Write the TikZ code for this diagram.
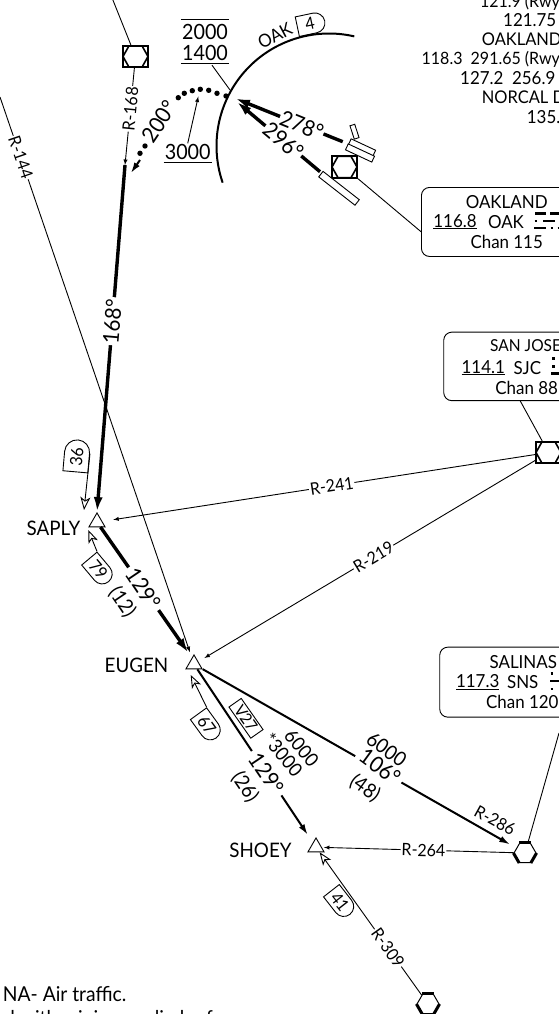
\documentclass[tikz,border=0pt]{standalone}
\usepackage{fontspec}
\setmainfont[FakeStretch=0.94]{Lato}
\usetikzlibrary{arrows,arrows.meta}
\usetikzlibrary{shapes.misc,shapes.geometric}
\def\txt#1{\fontsize{#1}{#1}\selectfont}
\tikzset{
	lbl/.style={font=\txt{17}, inner sep=1},
	txtn/.style={font=\txt{18}, inner sep=0},
	big/.style={font=\txt{22}, inner sep=1},
	mid/.style={font=\txt{20}, inner sep=1},
	blank/.style={fill=white},
	fix/.style={regular polygon, regular polygon sides=3, draw, fill=white, minimum size=18.5, inner sep=0, line width=0.9},
	vorbox/.style={draw, fill=white, line width=1.7, minimum width=25, minimum height=21.5, inner sep=0, path picture={
		\draw[line width=1.6] (path picture bounding box.center) ++(-12.5pt,0pt) -- ++(6pt,10.7pt) -- ++(13pt,0pt) -- ++(6pt,-10.7pt) -- ++(-6pt,-10.7pt) -- ++(-13pt,0pt) -- cycle;
		}},
	hexnav/.style={regular polygon, regular polygon sides=6, draw, fill=white, minimum size=22, inner sep=0, line width=1},
	shieldbox/.style={rounded rectangle, rounded rectangle left arc=none, draw, fill=white, minimum height=20, minimum width=30, inner sep=0, line width=0.9, font=\txt{17}},
	navbox/.style={draw, rounded corners=8, anchor=north west, minimum width=220, line width=0.9},
	rwy/.style={draw, fill=white, line width=0.9, inner sep=0},
	thinline/.style={line width=0.9},
	course/.style={line width=3.4},
	bold/.style={line width=2},
	opentip/.style={line width=0.9, -{Stealth[open,fill=white,length=13,width=10,inset=3.5]}},
	bigtip/.style={-{Latex[length=15,width=9]}},
	midtip/.style={-{Latex[length=11,width=6.5]}},
	morse/.style={line width=2.6},
}
\begin{document}
\begin{tikzpicture}[x=1pt,y=-1pt]
		\clip[use as bounding box] (0,0) rectangle (559,1014);
		
		% frequency block
		\node[txtn, anchor=east, font=\txt{17}] (twr a) at (560,2) {121.9 (Rwy};
		\node[txtn, anchor=west] (twr b) at (503,20) {121.75};
		\node[txtn, anchor=west, font=\txt{17.5}] (twr c) at (481.7,39.3) {OAKLAND};
		\node[txtn, anchor=east, font=\txt{17}] (twr d) at (560,59.3) {118.3\ \ 291.65 (Rwy};
		\node[txtn, anchor=west] (twr e) at (460,78.3) {127.2\ \ 256.9};
		\node[txtn, anchor=west, font=\txt{17.5}] (twr f) at (481.7,97.7) {NORCAL D};
		\node[txtn, anchor=west] (twr g) at (526.7,116.7) {135.};
		
		% boxes
		\node[navbox, minimum height=69] (oakbox) at (421,187) {};
		\node[txtn] (oak a) at (506.7,201.7) {OAKLAND};
		\node[txtn] (oak b) at (455,221.7) {\underline{116.8}};
		\node[txtn] (oak c) at (506,221.7) {OAK};
		\node[txtn] (oak d) at (506.7,241.7) {Chan 115};
		\node[navbox, minimum height=68.5] (sjcbox) at (443.3,331.7) {};
		\node[txtn, anchor=west, font=\txt{16.5}] (sjc a) at (490,346) {SAN JOSE};
		\node[txtn] (sjc b) at (483.3,367.7) {\underline{114.1}};
		\node[txtn] (sjc c) at (527.3,367.7) {SJC};
		\node[txtn] (sjc d) at (526.7,388.3) {Chan 88};
		\node[navbox, minimum height=70] (snsbox) at (439.3,646.7) {};
		\node[txtn] (sns a) at (523.3,662.3) {SALINAS};
		\node[txtn] (sns b) at (477.7,682.3) {\underline{117.3}};
		\node[txtn] (sns c) at (522.7,682.3) {SNS};
		\node[txtn] (sns d) at (522.3,701.7) {Chan 120};
		
		% morse
		\draw[morse] (535,213.3) -- (545.7,213.3) (550,213.3) -- (559,213.3);
		\draw[morse] (534.5,221) -- (537,221) (543.3,221) -- (555,221);
		\draw[morse] (534.3,228) -- (545.7,228) (550.5,228) -- (553,228) (557.5,228) -- (559,228);
		\draw[morse] (552,358.3) -- (554.6,358.3) (552,366.7) -- (554.6,366.7) (551,373.3) -- (559,373.3);
		\draw[morse] (550.5,673.3) -- (553,673.3) (550,681) -- (559,681) (550.5,689) -- (553,689);
		
		% navaids
		\node[vorbox] (vorn) at (135.5,56.5) {};
		\node[vorbox] (voroak) at (344.5,167) {};
		\node[vorbox] (vorsjc) at (548.5,452.5) {};
		\node[hexnav] (hexsns) at (525,853) {};
		\node[hexnav] (hexs) at (428,1004) {};
		\foreach \h in {hexsns,hexs} {
			\draw[line width=3] (\h.corner 1) -- (\h.corner 2);
			\draw[line width=3] (\h.corner 3) -- (\h.corner 4);
			\draw[line width=3] (\h.corner 5) -- (\h.corner 6);
		}
		
		% fixes
		\node[fix] (saply) at (97,522.2) {};
		\node[fix] (eugen) at (194,664.2) {};
		\node[fix] (shoey) at (316,847.2) {};
		\node[mid] (nsaply) at (53.5,528.3) {SAPLY};
		\node[mid] (neugen) at (136.5,665) {EUGEN};
		\node[mid] (nshoey) at (260.5,850) {SHOEY};
		
		% free ends
		\coordinate (topn) at (112.5,-1);
		\coordinate (topw) at (0,97);
		\coordinate (topsns) at (559,733);
		\coordinate (oakjoin) at (421,231.7);
		\coordinate (sjcjoin) at (520,400.5);
		\coordinate (end168) at (125,165);
		\coordinate (st129) at (100.5,527);
		\coordinate (tip129) at (188.5,653);
		\coordinate (rw278) at (342.7,141.7);
		\coordinate (rw296) at (320,171.7);
		\coordinate (tip278) at (235,98.3);
		\coordinate (tip296) at (236.7,101.7);
		\coordinate (hold) at (198.3,96.5);
		\coordinate (arcpt) at (230,90);
		\coordinate (dota) at (140,160);
		\coordinate (dotb) at (130.7,173.3);
		\coordinate (tip36) at (84,510);
		\coordinate (tip79) at (88.3,530);
		\coordinate (tip67) at (190.7,675);
		
		% radials
		\draw[thinline] (topn) -- (vorn);
		\draw[thinline, -latex, shorten >=6] (topw) -- node[lbl, sloped, blank, pos=0.108] (r144) {R-144} (eugen);
		\draw[thinline, -latex] (vorn) -- node[lbl, sloped, blank, pos=0.42] (r168) {R-168} (end168);
		\draw[thinline, -latex, shorten >=11] (vorsjc) -- node[lbl, sloped, blank, pos=0.47] (r241) {R-241} (saply);
		\draw[thinline, -latex, shorten >=7] (vorsjc) -- node[lbl, sloped, blank, pos=0.48] (r219) {R-219} (eugen);
		\draw[thinline, -latex, shorten >=2] (hexsns) -- node[lbl, sloped, blank, pos=0.47] (r264) {R-264} (shoey);
		\draw[opentip, shorten >=0] (hexs) -- node[lbl, sloped, blank, pos=0.33] (r309) {R-309} (shoey);
		\draw[thinline] (voroak.south east) -- (oakjoin);
		\draw[thinline] (sjcjoin) -- (vorsjc);
		\draw[thinline] (topsns) -- (hexsns);
		
		% airways
		\draw[course, bigtip] (end168) -- node[mid, rotate=85, blank, font=\txt{22}, pos=0.45, minimum width=48] (c168) {168°} (saply.north);
		\draw[course, bigtip] (st129) -- node[big, rotate=-56, blank, pos=0.49, minimum width=52] (c129a) {129°} (tip129);
		\node[mid, rotate=-56] (d12) at (122.3,601.7) {(12)};
		\draw[bold, midtip, shorten >=9] (eugen) -- node[big, rotate=-56, blank, pos=0.6, minimum width=53] (c129b) {129°} (shoey);
		\node[mid, rotate=-56] (d26) at (245,786.7) {(26)};
		\node[mid, rotate=-50, font=\txt{19}] (a3000) at (283.3,755) {*3000};
		\node[mid, rotate=-50, font=\txt{19}] (a6000) at (301.7,748.3) {6000};
		\draw[bold, midtip, shorten >=7] (eugen) -- node[blank, rotate=-30, inner sep=0, minimum width=53, minimum height=6, pos=0.56] (gap106) {} (hexsns);
		\node[big, rotate=-36] (c106) at (380,766.7) {106°};
		\node[mid, rotate=-36] (a6000b) at (386.7,749.3) {6000};
		\node[mid, rotate=-36] (d48) at (365,788.3) {(48)};
		\node[lbl, rotate=-29] (r286) at (495,820.5) {R-286};
		
		% V27 and shields
		\node[draw, rotate=-55, fill=white, line width=0.9, minimum width=38, minimum height=15, inner sep=0, font=\txt{16}] (v27) at (246,718.3) {V27};
		\node[shieldbox, rotate=85, minimum height=25, minimum width=32] (s36) at (76.7,456.7) {36};
		\node[shieldbox, rotate=-50] (s79) at (98.3,569.3) {79};
		\node[shieldbox, rotate=-54] (s67) at (206.7,725) {67};
		\node[shieldbox, rotate=-52] (s41) at (340,901.7) {41};
		\node[shieldbox, rotate=12, minimum width=28] (s4) at (310,24) {4};
		\draw[opentip] (s36.south east) -- (tip36);
		\draw[opentip] (s79.north west) -- (tip79);
		\draw[opentip] (s67.north west) -- (tip67);
		
		% oakland field
		\draw[line width=2] plot[domain=-77:-199, samples=40, smooth] ({329+112.5*cos(\x)},{146+112.5*sin(\x)});
		\node[mid, rotate=28, font=\txt{18}] (oakfix) at (275,35.7) {OAK};
		\node[rwy, rotate=-38, minimum width=46, minimum height=7] (rwya) at (339,188.3) {};
		\node[rwy, rotate=-72, minimum width=14, minimum height=5] (rwyb) at (354.5,131.7) {};
		\node[rwy, rotate=-25, minimum width=27, minimum height=6.5] (rwyc) at (362,147.5) {};
		\node[rwy, rotate=-25, minimum width=29, minimum height=6.5] (rwyd) at (360,153) {};
		\draw[course, bigtip] (rw296) -- node[big, rotate=-40, blank, pos=0.44] (c296) {296°} (tip296);
		\draw[course, bigtip] (rw278) -- node[big, rotate=-22, blank, pos=0.38] (c278) {278°} (tip278);
		
		% hold entry
		\foreach \x/\y in {226/96,217/93.3,208.7/90.3,200.3/89.3,192.3/90.7,184.3/93.3,178.3/97.7,145/146,140/153.3} {
			\fill (\x,\y) circle (2.7);
		}
		\draw[line width=2, midtip] (dota) -- (dotb);
		\node[big, rotate=56] (c200) at (159.3,121.7) {200°};
		
		% altitudes
		\node[big, font=\txt{21}] (a2000) at (205,31.7) {2000};
		\node[big, font=\txt{21}] (a1400) at (205,53.3) {1400};
		\node[big, font=\txt{21}] (a3000b) at (187.7,152.3) {3000};
		\draw[thinline] ([yshift=3]a2000.north west) -- ([yshift=3]a2000.north east);
		\draw[thinline] ([yshift=-1]a1400.south west) -- ([yshift=-1]a1400.south east);
		\draw[thinline] ([yshift=-1]a3000b.south west) -- ([yshift=-1]a3000b.south east);
		\draw[thinline] ([xshift=7,yshift=-3]a1400.south) -- (arcpt);
		\draw[thinline, -latex] (a3000b.north) -- (hold);
		
		% note
		\node[txtn, anchor=base west, font=\txt{20.5}] (note a) at (2.7,1001.7) {NA- Air traffic.};
		\node[txtn, anchor=base west, font=\txt{20.5}] (note b) at (4,1025) {d with minimum climb of};
	\end{tikzpicture}
\end{document}
